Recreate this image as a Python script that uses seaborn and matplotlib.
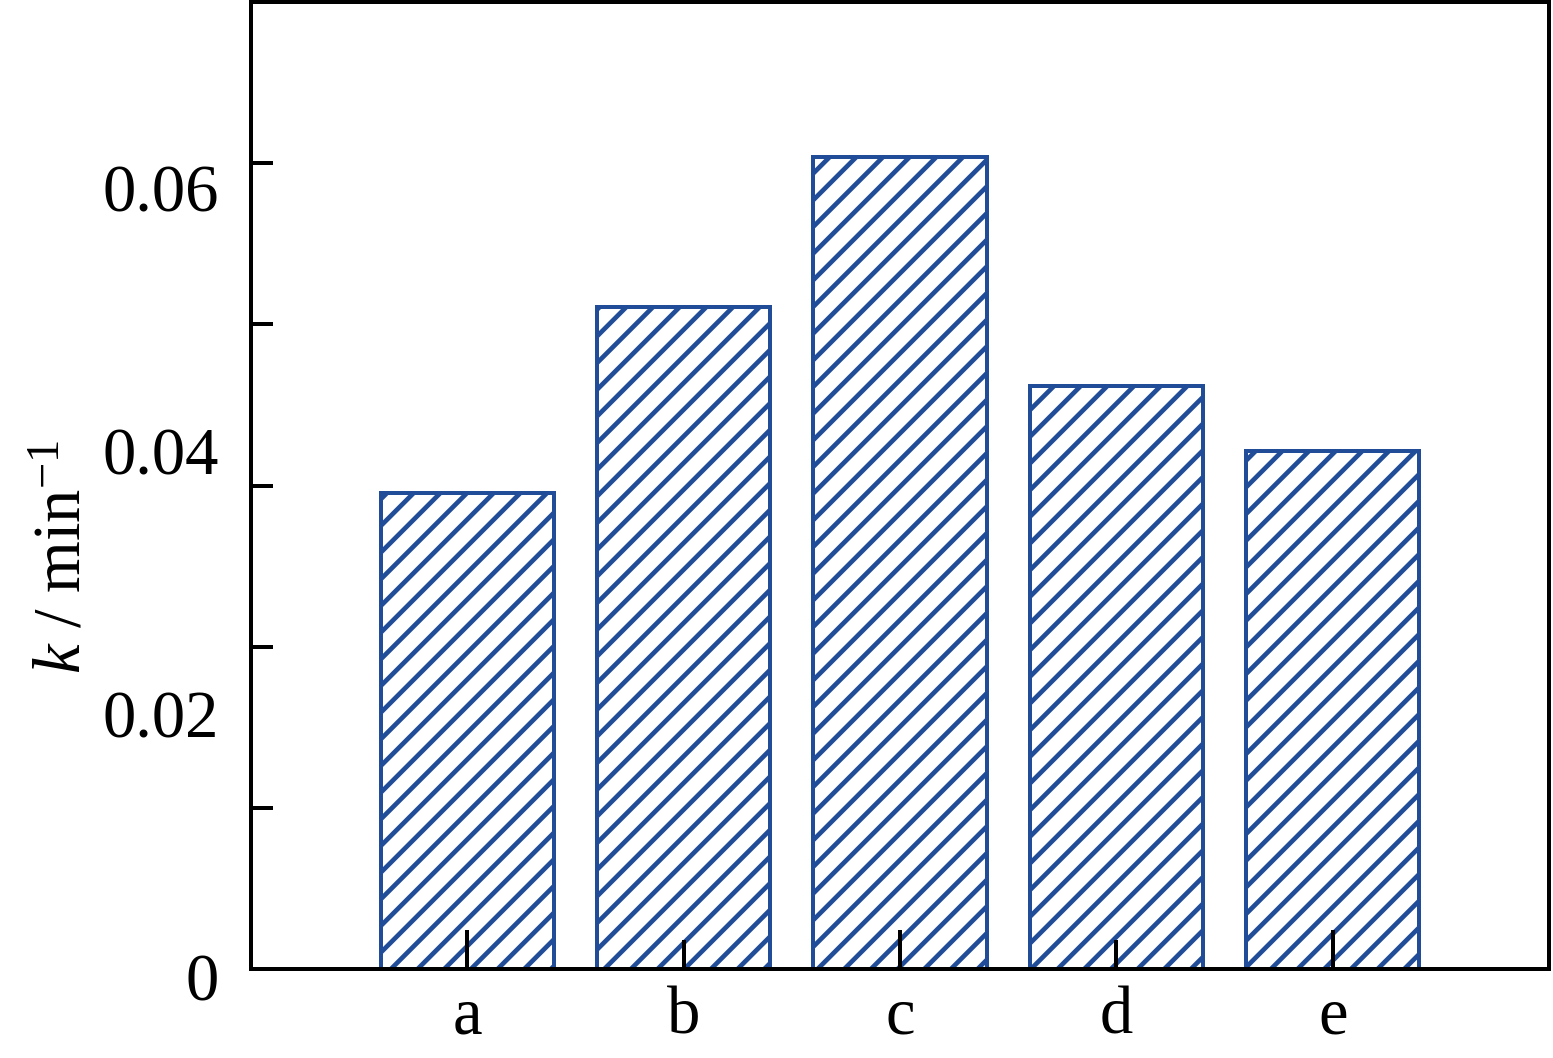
import matplotlib
matplotlib.use("Agg")
import matplotlib.pyplot as plt
import matplotlib.transforms as mtransforms
import numpy as np
import seaborn as sns

# datos
categories = ["a", "b", "c", "d", "e"]
k_values = [0.0362, 0.0503, 0.0617, 0.0443, 0.0394]
ytick_values = [0, 0.02, 0.04, 0.06]
ytick_labels = ["0", "0.02", "0.04", "0.06"]
y_max = 0.0735

blue = "#214C98"
fs = 30

sns.set_theme(style="ticks")
plt.rcParams["font.family"] = ["Liberation Serif", "DejaVu Serif"]
plt.rcParams["mathtext.fontset"] = "custom"
plt.rcParams["mathtext.rm"] = "Liberation Serif"
plt.rcParams["mathtext.it"] = "Liberation Serif:italic"
plt.rcParams["text.color"] = "black"
plt.rcParams["axes.labelcolor"] = "black"
plt.rcParams["xtick.color"] = "black"
plt.rcParams["ytick.color"] = "black"
plt.rcParams["hatch.color"] = blue
plt.rcParams["hatch.linewidth"] = 2.1

fig = plt.figure(figsize=(1553 / 160, 1058 / 160), dpi=160)
ax = fig.add_axes([251 / 1553, 89 / 1058, 1298 / 1553, 967 / 1058])

sns.barplot(x=categories, y=k_values, ax=ax, color="white", edgecolor=blue,
            linewidth=1.8, hatch="//", errorbar=None, saturation=1, width=0.8)

ax.set_axisbelow(False)
ax.set_xlim(-1, 5)
ax.set_ylim(0, y_max)

# eje y: etiquetas sin marca, marcas internas cada sexto del eje
ax.set_yticks(ytick_values, labels=ytick_labels)
ax.set_yticks(np.linspace(0, y_max, 7)[1:-1], minor=True)
ax.tick_params(axis="y", which="major", length=0, pad=14.5, labelsize=fs,
               labelcolor="black")
ax.tick_params(axis="y", which="minor", direction="in", length=10, width=1.8,
               color="black")
offset = mtransforms.ScaledTranslation(0, -3.6 / 72, fig.dpi_scale_trans)
for lab in ax.get_yticklabels():
    lab.set_transform(lab.get_transform() + offset)

# eje x: a, c, e con marca larga; b, d con marca corta
idx = np.arange(len(categories))
ax.set_xticks(idx[::2], labels=categories[::2])
ax.set_xticks(idx[1::2], labels=categories[1::2], minor=True)
ax.tick_params(axis="x", which="major", direction="in", length=17.5, width=1.8,
               pad=8, labelsize=fs, color="black", labelcolor="black")
ax.tick_params(axis="x", which="minor", direction="in", length=13, width=1.8,
               pad=8, labelsize=fs, color="black", labelcolor="black")

for sp in ax.spines.values():
    sp.set_linewidth(1.8)
    sp.set_color("black")

ax.set_xlabel("")
ax.set_ylabel(r"$k$ / min$^{-1}$", fontsize=fs, color="black")
ax.yaxis.set_label_coords(-0.121, 0.426)

fig.savefig("out.png", dpi=160, facecolor="white")
